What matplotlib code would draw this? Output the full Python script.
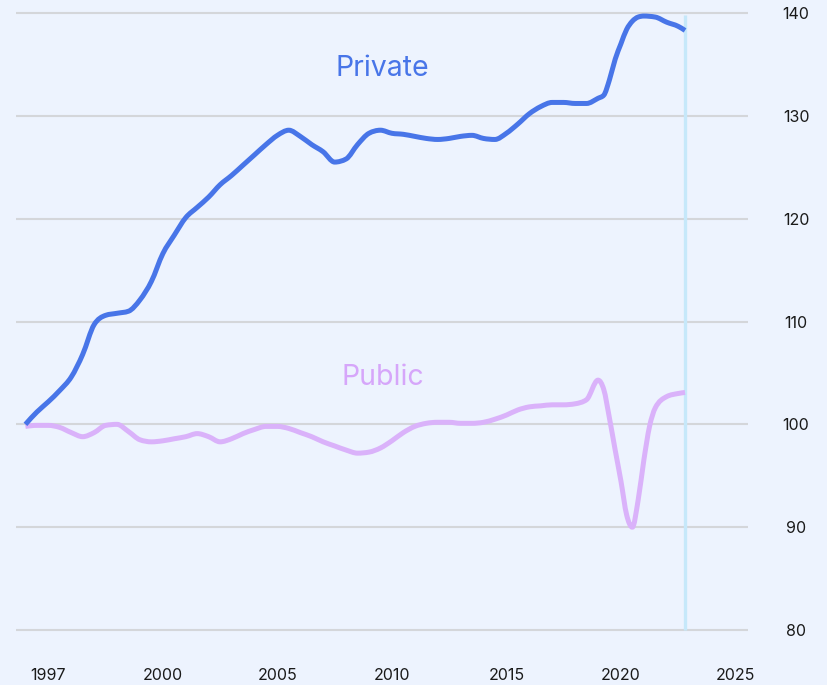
import numpy as np
import matplotlib.pyplot as plt
from matplotlib.path import Path
from matplotlib.patches import PathPatch

# Data (index, start = 100)
years_private = [1994.0, 1994.5, 1995.0, 1995.5, 1996.0, 1996.5, 1997.0, 1997.5,
                 1998.0, 1998.5, 1999.0, 1999.5, 2000.0, 2000.5, 2001.0, 2001.5,
                 2002.0, 2002.5, 2003.0, 2003.5, 2004.0, 2004.5, 2005.0, 2005.5,
                 2006.0, 2006.5, 2007.0, 2007.5, 2008.0, 2008.5, 2009.0, 2009.5,
                 2010.0, 2010.5, 2011.0, 2011.5, 2012.0, 2012.5, 2013.0, 2013.5,
                 2014.0, 2014.5, 2015.0, 2015.5, 2016.0, 2016.5, 2017.0, 2017.5,
                 2018.0, 2018.5, 2019.0, 2019.25, 2019.5, 2019.75, 2020.0, 2020.25,
                 2020.5, 2020.75, 2021.0, 2021.5, 2022.0, 2022.5, 2022.8]
private = [100.0, 101.2, 102.2, 103.3, 104.6, 106.8, 109.7, 110.6,
           110.8, 111.0, 112.1, 113.9, 116.6, 118.4, 120.1, 121.1,
           122.1, 123.3, 124.2, 125.2, 126.2, 127.2, 128.1, 128.6,
           128.0, 127.2, 126.5, 125.5, 125.8, 127.2, 128.3, 128.6,
           128.3, 128.2, 128.0, 127.8, 127.7, 127.8, 128.0, 128.1,
           127.8, 127.7, 128.3, 129.2, 130.2, 130.9, 131.3, 131.3,
           131.2, 131.2, 131.7, 132.0, 133.5, 135.5, 137.0, 138.4,
           139.2, 139.6, 139.7, 139.6, 139.1, 138.7, 138.3]

years_public = [1994.0, 1994.5, 1995.0, 1995.5, 1996.0, 1996.5, 1997.0, 1997.5,
                1998.0, 1998.5, 1999.0, 1999.5, 2000.0, 2000.5, 2001.0, 2001.5,
                2002.0, 2002.5, 2003.0, 2003.5, 2004.0, 2004.5, 2005.0, 2005.5,
                2006.0, 2006.5, 2007.0, 2007.5, 2008.0, 2008.5, 2009.0, 2009.5,
                2010.0, 2010.5, 2011.0, 2011.5, 2012.0, 2012.5, 2013.0, 2013.5,
                2014.0, 2014.5, 2015.0, 2015.5, 2016.0, 2016.5, 2017.0, 2017.5,
                2018.0, 2018.5, 2019.0, 2019.25, 2019.5, 2019.75, 2020.0, 2020.25,
                2020.5, 2020.75, 2021.0, 2021.25, 2021.5, 2022.0, 2022.5, 2022.8]
public = [99.8, 99.9, 99.9, 99.7, 99.2, 98.8, 99.2, 99.9,
          100.0, 99.3, 98.5, 98.3, 98.4, 98.6, 98.8, 99.1,
          98.8, 98.3, 98.6, 99.1, 99.5, 99.8, 99.8, 99.6,
          99.2, 98.8, 98.3, 97.9, 97.5, 97.2, 97.3, 97.7,
          98.4, 99.2, 99.8, 100.1, 100.2, 100.2, 100.1, 100.1,
          100.2, 100.5, 100.9, 101.4, 101.7, 101.8, 101.9, 101.9,
          102.0, 102.4, 104.3, 103.4, 100.6, 97.5, 94.5, 91.2,
          90.0, 92.6, 96.5, 99.8, 101.6, 102.7, 103.0, 103.1]

y_ticks = [80, 90, 100, 110, 120, 130, 140]
x_tick_pos = [1995, 2000, 2005, 2010, 2015, 2020, 2025]
x_tick_labels = ['1997', '2000', '2005', '2010', '2015', '2020', '2025']
last_year = 2022.8

bg = '#EDF3FE'
blue = '#4875E8'
lilac = '#DAB2FA'


def smooth_path(x, y):
    # monotone cubic curve through the points (like d3.curveMonotoneX)
    x = np.asarray(x, float)
    y = np.asarray(y, float)
    h = np.diff(x)
    s = np.diff(y) / h
    m = np.zeros(len(x))
    for i in range(1, len(x) - 1):
        p = (s[i - 1] * h[i] + s[i] * h[i - 1]) / (h[i - 1] + h[i])
        m[i] = (np.sign(s[i - 1]) + np.sign(s[i])) * min(abs(s[i - 1]), abs(s[i]), 0.5 * abs(p))
    m[0] = (3 * s[0] - m[1]) / 2
    m[-1] = (3 * s[-1] - m[-2]) / 2
    verts = [(x[0], y[0])]
    codes = [Path.MOVETO]
    for i in range(len(x) - 1):
        d = h[i] / 3
        verts += [(x[i] + d, y[i] + m[i] * d),
                  (x[i + 1] - d, y[i + 1] - m[i + 1] * d),
                  (x[i + 1], y[i + 1])]
        codes += [Path.CURVE4] * 3
    return Path(verts, codes)


plt.rcParams['font.family'] = ['Inter', 'DejaVu Sans']

fig = plt.figure(figsize=(8.27, 6.85), dpi=100, facecolor=bg)
ax = fig.add_axes([0.0194, 0.0652, 0.8851, 0.9309], facecolor=bg)

ax.set_xlim(1993.59, 2025.55)
ax.set_ylim(79, 141)

# gridlines
for v in y_ticks:
    ax.axhline(v, color='#D4D6DA', linewidth=1.5, zorder=1)

ax.vlines(last_year, 80, 139.8, color='#C6E8FA', linewidth=2.4, zorder=2)

ax.add_patch(PathPatch(smooth_path(years_public, public), fill=False,
                       edgecolor=lilac, linewidth=3.6, capstyle='butt',
                       joinstyle='round', zorder=3))
ax.add_patch(PathPatch(smooth_path(years_private, private), fill=False,
                       edgecolor=blue, linewidth=3.6, capstyle='butt',
                       joinstyle='round', zorder=4))

ax.text(2009.6, 134.6, 'Private', color=blue, fontsize=20.5,
        ha='center', va='center')
ax.text(2009.6, 104.6, 'Public', color='#D6A6FA', fontsize=20.5,
        ha='center', va='center')

for s in ax.spines.values():
    s.set_visible(False)

ax.yaxis.tick_right()
ax.set_yticks(y_ticks)
ax.set_yticklabels([str(v) for v in y_ticks])
ax.tick_params(axis='y', length=0, pad=34.6, labelsize=11.5, labelcolor='#1A1A1A')
for t in ax.yaxis.get_major_ticks():
    t.label2.set_horizontalalignment('center')

ax.set_xticks(x_tick_pos)
ax.set_xticklabels(x_tick_labels)
ax.tick_params(axis='x', length=0, pad=20, labelsize=11.5, labelcolor='#1A1A1A')

fig.savefig('out.png', dpi=100, facecolor=bg)
